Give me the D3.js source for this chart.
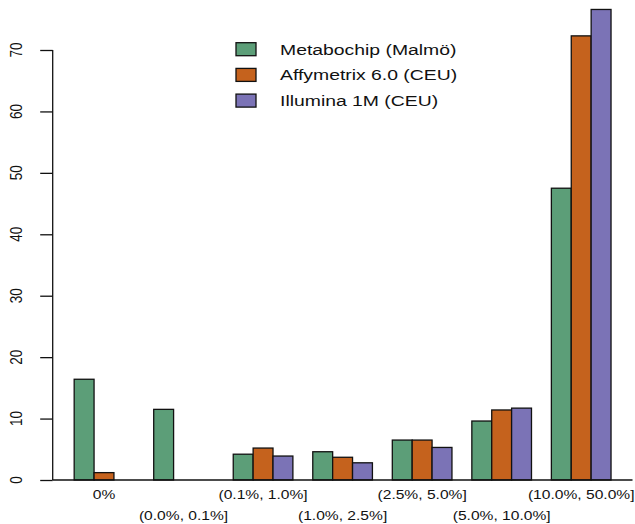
<!DOCTYPE html>
<html>
<head>
<meta charset="utf-8">
<script src="https://cdn.jsdelivr.net/npm/d3@7"></script>
<style>
  body { margin: 0; background: #fff; }
  text { font-family: "Liberation Sans", Arial, Helvetica, sans-serif; fill: #111; }
</style>
</head>
<body>
<div id="chart"></div>
<script>
// data (percent of variants per MAF bin)
var categories = ["0%", "(0.0%, 0.1%]", "(0.1%, 1.0%]", "(1.0%, 2.5%]", "(2.5%, 5.0%]", "(5.0%, 10.0%]", "(10.0%, 50.0%]"];
var seriesNames = ["Metabochip (Malmö)", "Affymetrix 6.0 (CEU)", "Illumina 1M (CEU)"];
var metabochip = [16.4, 11.5, 4.2, 4.6, 6.5, 9.6, 47.5];
var affymetrix = [1.2, 0, 5.2, 3.7, 6.5, 11.4, 72.3];
var illumina = [0, 0, 3.9, 2.8, 5.3, 11.7, 76.6];
var yTicks = [0, 10, 20, 30, 40, 50, 60, 70];
var colors = ["#5c9e78", "#c5621d", "#7b73b6"];

var seriesValues = [metabochip, affymetrix, illumina];

var W = 635, H = 524;
var plotLeft = 52.7, plotRight = 632.5;
var sx = 1.2; // the original text is a bit stretched sideways

var svg = d3.select("#chart")
    .append("svg")
    .attr("width", W)
    .attr("height", H);

// group and bar scales
var x0 = d3.scaleBand()
    .domain(categories)
    .range([plotLeft, plotRight])
    .paddingInner(0.25)
    .paddingOuter(0.27);
var x1 = d3.scaleBand()
    .domain(seriesNames)
    .range([0, x0.bandwidth()]);

var y = d3.scaleLinear()
    .domain([0, 70])
    .range([480, 50]);

// bars
var groups = svg.selectAll("g.grp")
    .data(categories)
    .enter()
    .append("g")
    .attr("class", "grp")
    .attr("transform", function (d) { return "translate(" + x0(d) + ",0)"; });

groups.selectAll("rect")
    .data(function (d, i) {
        return seriesNames.map(function (s, j) { return { name: s, value: seriesValues[j][i], k: j }; });
    })
    .enter()
    .append("rect")
    .attr("x", function (d) { return x1(d.name); })
    .attr("y", function (d) { return y(d.value); })
    .attr("width", x1.bandwidth())
    .attr("height", function (d) { return y(0) - y(d.value); })
    .attr("fill", function (d) { return colors[d.k]; })
    .attr("stroke", "#111")
    .attr("stroke-width", 1.3);

// baseline across the plot
svg.append("line")
    .attr("x1", plotLeft).attr("x2", plotRight)
    .attr("y1", y(0)).attr("y2", y(0))
    .attr("stroke", "#111")
    .attr("stroke-width", 1.3);

// y axis
var yAxis = svg.append("g")
    .attr("transform", "translate(" + plotLeft + ",0)")
    .call(d3.axisLeft(y).tickValues(yTicks).tickSize(12.5).tickFormat(""));
yAxis.select(".domain").attr("d", "M0," + y(70) + "V" + y(0)).attr("stroke", "#111").attr("stroke-width", 1.3);
yAxis.selectAll(".tick line").attr("stroke", "#111").attr("stroke-width", 1.3);

svg.selectAll("text.ylab")
    .data(yTicks)
    .enter()
    .append("text")
    .attr("class", "ylab")
    .attr("transform", function (d) { return "translate(22," + y(d) + ") scale(" + sx + ",1) rotate(-90)"; })
    .attr("text-anchor", "middle")
    .attr("font-size", "13.5px")
    .text(function (d) { return d; });

// x labels, staggered on two lines
svg.selectAll("text.xlab")
    .data(categories)
    .enter()
    .append("text")
    .attr("class", "xlab")
    .attr("transform", function (d, i) {
        var cx = x0(d) + x0.bandwidth() / 2;
        var cy = i % 2 == 0 ? 499 : 520;
        return "translate(" + cx + "," + cy + ") scale(" + sx + ",1)";
    })
    .attr("text-anchor", "middle")
    .attr("font-size", "13px")
    .text(function (d) { return d; });

// legend
var legend = svg.selectAll("g.leg")
    .data(seriesNames)
    .enter()
    .append("g")
    .attr("class", "leg")
    .attr("transform", function (d, i) { return "translate(236," + (42.7 + i * 25.7) + ")"; });

legend.append("rect")
    .attr("width", 20)
    .attr("height", 13)
    .attr("fill", function (d, i) { return colors[i]; })
    .attr("stroke", "#111")
    .attr("stroke-width", 1.3);

legend.append("text")
    .attr("transform", "translate(44,12) scale(1.25,1)")
    .attr("font-size", "15.5px")
    .text(function (d) { return d; });
</script>
</body>
</html>
